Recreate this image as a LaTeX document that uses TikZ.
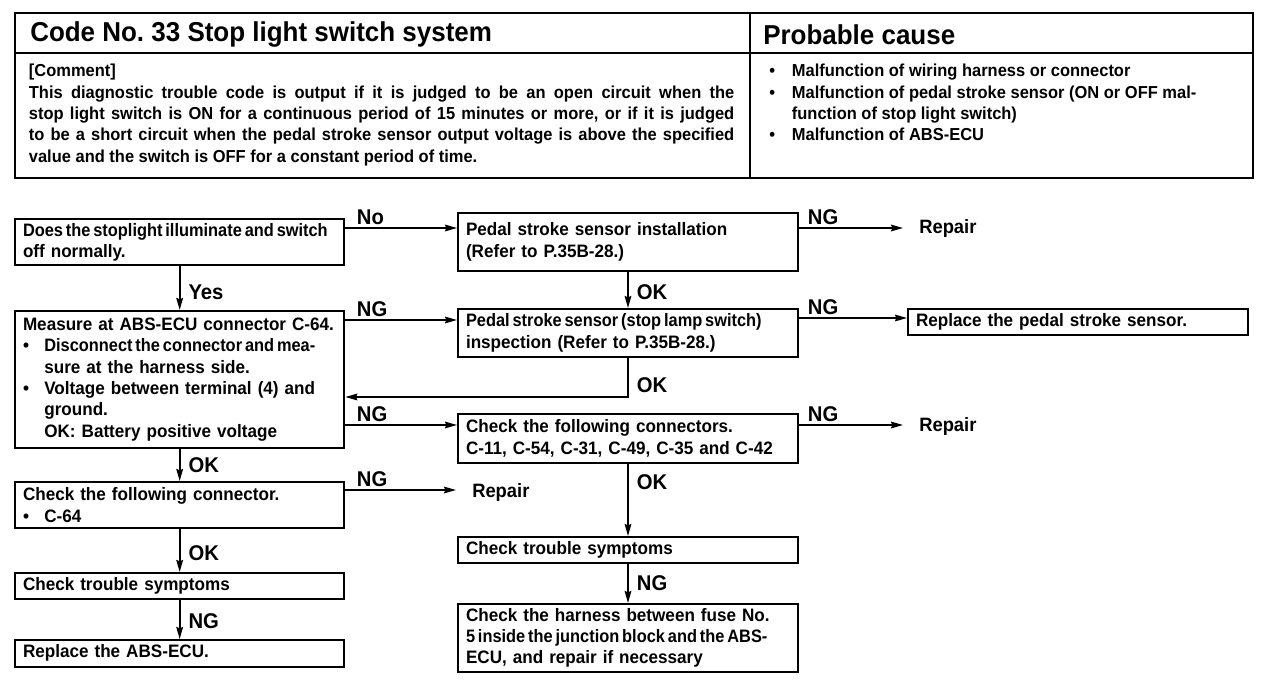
\documentclass[tikz,border=0pt]{standalone}
\usepackage{fontspec}
\newfontfamily\manfont{Liberation Sans}[FakeStretch=0.95]
\newfontfamily\tightfont{Liberation Sans}[FakeStretch=0.91]
\usetikzlibrary{arrows.meta, positioning}
\frenchspacing
\newcommand{\itembul}{\makebox[16pt][l]{\textbullet}}
\newcommand{\tight}[1]{{\tightfont\bfseries\spaceskip=0.16em plus 0.05em\relax #1}}
\tikzset{
  box/.style={
    rectangle, draw, line width=1.5pt,
    anchor=north west, align=left,
    inner xsep=6pt, inner ysep=3pt,
    font=\manfont\bfseries\fontsize{13.5}{16}\selectfont
  },
  lbox/.style={box, text width=235pt},
  mbox/.style={box, text width=243pt},
  cell/.style={
    rectangle, draw, line width=1.8pt,
    anchor=north west, inner sep=0pt
  },
  celltext/.style={
    anchor=north west, inner sep=0pt, align=left,
    font=\manfont\bfseries\fontsize{13}{16}\selectfont
  },
  headtext/.style={
    anchor=west, inner sep=0pt,
    font=\manfont\bfseries\fontsize{20.5}{24}\selectfont
  },
  lbl/.style={
    inner sep=2pt,
    font=\manfont\bfseries\fontsize{16}{18}\selectfont
  },
  endtxt/.style={
    anchor=west, inner xsep=12pt,
    font=\manfont\bfseries\fontsize{14.5}{16}\selectfont
  },
  arr/.style={
    -{Stealth[length=9pt, width=5pt, inset=1pt]}, line width=1.3pt
  }
}

\begin{document}
\begin{tikzpicture}[x=0.75pt, y=-0.75pt]

  \useasboundingbox (0,0) rectangle (1280,688);

  % table
  \node[cell, minimum width=551.25pt, minimum height=30pt]    (codecell)  at (14,12)  {};
  \node[cell, minimum width=377.25pt, minimum height=30pt]    (causehead) at (749,12) {};
  \node[cell, minimum width=551.25pt, minimum height=93.75pt] (commcell)  at (14,52)  {};
  \node[cell, minimum width=377.25pt, minimum height=93.75pt] (causecell) at (749,52) {};

  \node[headtext] (codetitle)  at ([xshift=12pt, yshift=-1pt]codecell.west)   {Code No. 33 Stop light switch system};
  \node[headtext] (causetitle) at ([xshift=10.5pt, yshift=-1pt]causehead.west) {Probable cause};

  \node[celltext, text width=529pt, align=justify] (comment)
    at ([xshift=11pt, yshift=-9pt]commcell.north west)
    {[Comment]\linebreak
     This diagnostic trouble code is output if it is judged to be an open circuit when the\linebreak
     stop light switch is ON for a continuous period of 15 minutes or more, or if it is judged\linebreak
     to be a short circuit when the pedal stroke sensor output voltage is above the specified\linebreak
     value and the switch is OFF for a constant period of time.};

  \node[celltext] (causes)
    at ([xshift=15pt, yshift=-9pt]causecell.north west)
    {\makebox[17pt][l]{\textbullet}Malfunction of wiring harness or connector\\
     \makebox[17pt][l]{\textbullet}Malfunction of pedal stroke sensor (ON or OFF mal-\\
     \hspace*{17pt}function of stop light switch)\\
     \makebox[17pt][l]{\textbullet}Malfunction of ABS-ECU};

  % left column
  \node[lbox, minimum height=33pt]     (stopq)   at (14,218) {\tight{Does the stoplight illuminate and switch}\\off normally.};
  \node[lbox, minimum height=102.75pt] (measure) at (14,310)
    {Measure at ABS-ECU connector C-64.\\
     \itembul \tight{Disconnect the connector and mea-}\\
     \hspace*{16pt}sure at the harness side.\\
     \itembul Voltage between terminal (4) and\\
     \hspace*{16pt}ground.\\
     \hspace*{16pt}OK: Battery positive voltage};
  \node[lbox, minimum height=34.5pt]   (conn64)  at (14,481) {Check the following connector.\\\itembul C-64};
  \node[lbox, minimum height=19.5pt]   (symptA)  at (14,572) {Check trouble symptoms};
  \node[lbox, minimum height=20pt]     (replecu) at (14,639) {Replace the ABS-ECU.};

  % middle column
  \node[mbox, minimum height=43.5pt]  (instal)  at (457,212) {Pedal stroke sensor installation\\(Refer to P.35B-28.)};
  \node[mbox, minimum height=36pt]    (inspect) at (457,308) {\tight{Pedal stroke sensor (stop lamp switch)}\\inspection (Refer to P.35B-28.)};
  \node[mbox, minimum height=36.75pt] (connect) at (457,413) {Check the following connectors.\\C-11, C-54, C-31, C-49, C-35 and C-42};
  \node[mbox, minimum height=19.5pt]  (symptB)  at (457,536) {Check trouble symptoms};
  \node[mbox, minimum height=51pt]    (harness) at (457,603)
    {Check the harness between fuse No.\\\tight{5 inside the junction block and the ABS-}\\ECU, and repair if necessary};

  % right column
  \node[mbox, minimum height=19.5pt] (replsens) at (907,308) {Replace the pedal stroke sensor.};
  \node[endtxt] (repair1) at (903,229) {Repair};
  \node[endtxt] (repair2) at (903,426) {Repair};
  \node[endtxt] (repair3) at (456,492) {Repair};

  % branch points
  \coordinate (noA)  at ([yshift=-7.5pt]stopq.north east);
  \coordinate (ngA)  at ([yshift=-12pt]instal.north east);
  \coordinate (ngB)  at ([yshift=-7.5pt]measure.north east);
  \coordinate (ngC)  at ([yshift=-7.5pt]inspect.north east);
  \coordinate (okA)  at ([yshift=-29.25pt]inspect.south);
  \coordinate (ngD)  at ([yshift=-86.25pt]measure.north east);
  \coordinate (ngE)  at ([yshift=-9pt]connect.north east);
  \coordinate (ngF)  at ([yshift=-6.75pt]conn64.north east);

  % horizontal arrows
  \draw[arr] (noA) -- (noA -| instal.west)    node[lbl, above right, pos=0, xshift=6pt] {No};
  \draw[arr] (ngA) -- (ngA -| repair1.west)   node[lbl, above right, pos=0, xshift=4pt] {NG};
  \draw[arr] (ngB) -- (ngB -| inspect.west)   node[lbl, above right, pos=0, xshift=6pt] {NG};
  \draw[arr] (ngC) -- (ngC -| replsens.west)  node[lbl, above right, pos=0, xshift=4pt] {NG};
  \draw[arr] (ngD) -- (ngD -| connect.west)   node[lbl, above right, pos=0, xshift=6pt] {NG};
  \draw[arr] (ngE) -- (ngE -| repair2.west)   node[lbl, above right, pos=0, xshift=4pt] {NG};
  \draw[arr] (ngF) -- (ngF -| repair3.west)   node[lbl, above right, pos=0, xshift=6pt] {NG};

  % vertical arrows
  \draw[arr] (stopq.south)   -- (measure.north) node[lbl, right, pos=0.6, xshift=4pt] {Yes};
  \draw[arr] (instal.south)  -- (inspect.north) node[lbl, right, pos=0.55, xshift=4pt] {OK};
  \draw[arr] (inspect.south) -- (okA) node[lbl, right, pos=0.7, xshift=4pt] {OK} -- (okA -| measure.east);
  \draw[arr] (measure.south) -- (conn64.north)  node[lbl, right, pos=0.5, xshift=4pt] {OK};
  \draw[arr] (connect.south) -- (symptB.north)  node[lbl, right, pos=0.25, xshift=4pt] {OK};
  \draw[arr] (conn64.south)  -- (symptA.north)  node[lbl, right, pos=0.55, xshift=4pt] {OK};
  \draw[arr] (symptB.south)  -- (harness.north) node[lbl, right, pos=0.5, xshift=4pt] {NG};
  \draw[arr] (symptA.south)  -- (replecu.north) node[lbl, right, pos=0.55, xshift=4pt] {NG};

\end{tikzpicture}
\end{document}
